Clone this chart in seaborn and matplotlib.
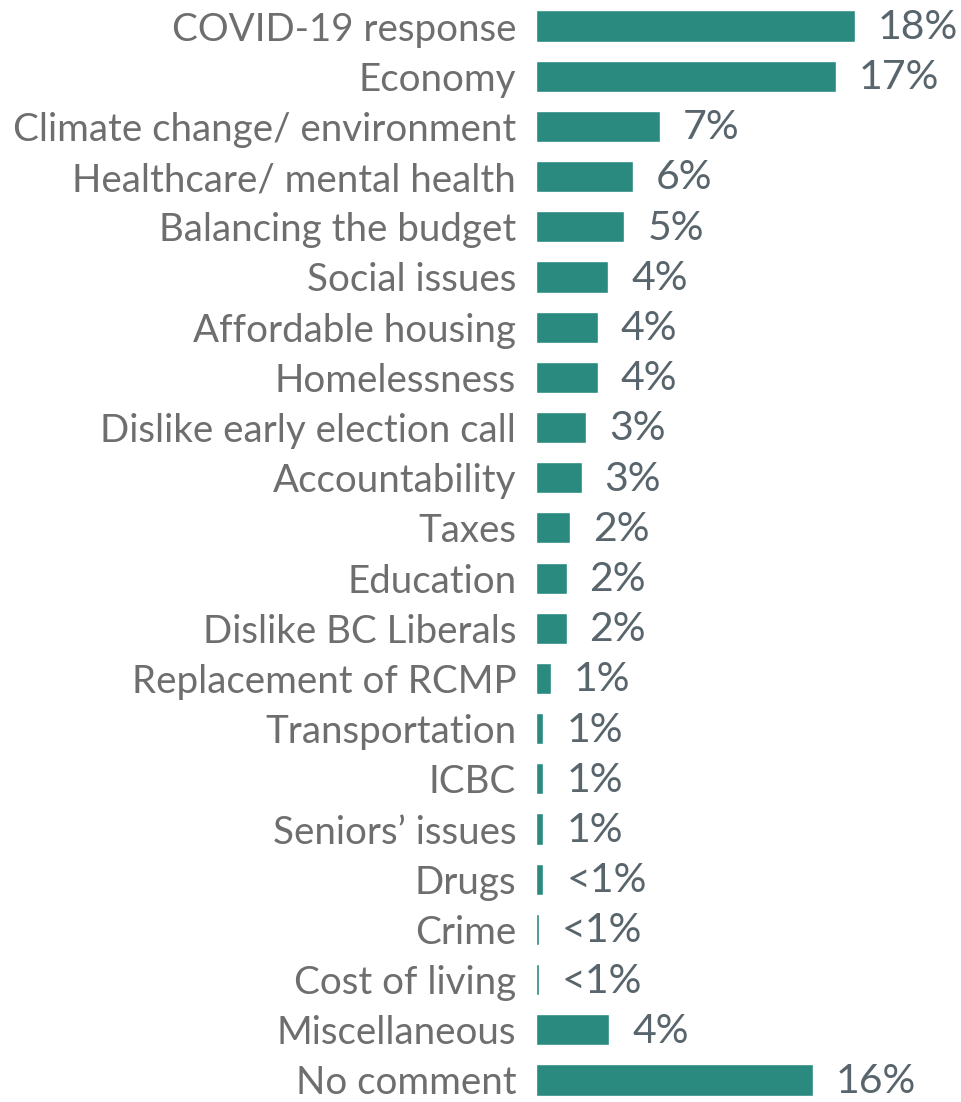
import matplotlib
matplotlib.use("Agg")
import matplotlib.pyplot as plt
import seaborn as sns
import pandas as pd

topics = ["COVID-19 response", "Economy", "Climate change/ environment",
          "Healthcare/ mental health", "Balancing the budget", "Social issues",
          "Affordable housing", "Homelessness", "Dislike early election call",
          "Accountability", "Taxes", "Education", "Dislike BC Liberals",
          "Replacement of RCMP", "Transportation", "ICBC", "Seniors\u2019 issues",
          "Drugs", "Crime", "Cost of living", "Miscellaneous", "No comment"]
shares = [18.0, 16.9, 7.0, 5.5, 5.0, 4.1, 3.5, 3.5, 2.85, 2.6, 1.95, 1.75, 1.75,
          0.87, 0.43, 0.43, 0.43, 0.43, 0.2, 0.2, 4.15, 15.6]
labels = ["18%", "17%", "7%", "6%", "5%", "4%", "4%", "4%", "3%", "3%", "2%",
          "2%", "2%", "1%", "1%", "1%", "1%", "<1%", "<1%", "<1%", "4%", "16%"]

df = pd.DataFrame({"topic": topics, "share": shares})

sns.set_style("white")
plt.rcParams["font.family"] = ["Lato", "DejaVu Sans"]

W, H = 961, 1102
fig = plt.figure(figsize=(W / 100, H / 100), dpi=100)
left = 535.6 / W
top_c, bot_c = 26, 1080
ax = fig.add_axes([left, 1 - bot_c / H, 1 - left, (bot_c - top_c) / H])

sns.barplot(data=df, y="topic", x="share", orient="h", color="#2a8a80",
            saturation=1, width=0.62, ax=ax)
for p in ax.patches:
    p.set_clip_on(False)

ax.set_ylim(len(topics) - 1, 0)
ax.set_xlim(0, (W - 535.6) / 17.75)
ax.set_xlabel("")
ax.set_ylabel("")
ax.set_xticks([])
ax.tick_params(axis="y", length=0, pad=14, labelsize=27.7, labelcolor="#6e6e6e")
sns.despine(ax=ax, left=True, bottom=True)

for i, (v, lab) in enumerate(zip(shares, labels)):
    ax.annotate(lab, (v, i), xytext=(16.5, -1), textcoords="offset points",
                va="center", ha="left", fontsize=29.5, color="#59656c",
                annotation_clip=False)

fig.savefig("out.png", dpi=100)
